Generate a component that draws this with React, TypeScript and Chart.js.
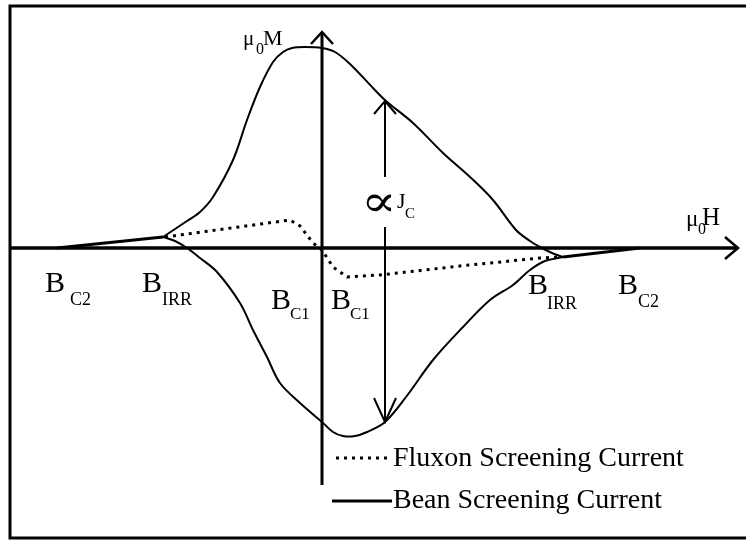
import React, { useEffect, useRef } from "react";
import { Chart, registerables } from "chart.js";

Chart.register(...registerables);

// Applied field μ0H and magnetisation μ0M, arbitrary units (origin where the axes cross)

// Bean screening current, branch above the field axis between the two B_IRR points
const beanUpperH = [-159, -135, -122, -109, -89, -75, -62, -49, -39, -30, -17, 0, 13, 28, 51, 64, 91, 121, 148, 171, 194, 208, 218, 230, 241];
const beanUpperM = [11, 27, 36, 51, 88, 128, 161, 186, 196, 200, 201, 200, 196, 184, 160, 147, 125, 95, 71, 48, 18, 7, 1, -5, -9];

// Bean screening current, branch below the field axis
const beanLowerH = [-159, -147, -135, -122, -105, -82, -69, -55, -42, -22, 0, 11, 21, 33, 45, 63, 84, 111, 141, 168, 191, 208, 223, 241];
const beanLowerM = [11, 7, 0, -10, -24, -55, -82, -109, -135, -155, -174, -184, -188, -188, -184, -174, -149, -112, -79, -52, -37, -22, -13, -9];

// Reversible tails between B_IRR and B_C2
const tailLeftH = [-265, -159];
const tailLeftM = [0, 11];
const tailRightH = [241, 318];
const tailRightM = [-9, 0];

// Fluxon screening current
const fluxonH = [-157, -32, -22, -9, 0, 11, 25, 58, 138, 218, 238];
const fluxonM = [11, 28, 22, 5, -2, -19, -29, -27, -18, -10, -9];

// Double arrow showing the width of the loop, proportional to Jc
const jcH = 63;
const jcTopM = 147;
const jcBottomM = -174;
const jcGapM = [71, 21];

// Axis extents
const hRange = [-322, 424];
const mRange = [-292, 248];
const hAxisEnd = [-312, 416];
const mAxisEnd = [-237, 216];

// Critical field labels
const fieldLabelText = ["B", "B", "B", "B", "B", "B"];
const fieldLabelSub = ["C2", "IRR", "C1", "C1", "IRR", "C2"];

const legendText = ["Fluxon Screening Current", "Bean Screening Current"];

// Placement of the critical field labels (H, M of the "B" baseline, subscript offsets in px)
const fieldLabelLayout = [
  { h: -277, m: -44, dx: 25, dy: 13, sub: 18 },
  { h: -180, m: -44, dx: 20, dy: 13, sub: 18 },
  { h: -51, m: -61, dx: 19, dy: 10, sub: 17 },
  { h: 9, m: -61, dx: 19, dy: 10, sub: 17 },
  { h: 206, m: -46, dx: 19, dy: 15, sub: 18 },
  { h: 296, m: -46, dx: 20, dy: 13, sub: 18 },
];

const SERIF = '"Liberation Serif", "Times New Roman", "DejaVu Serif", serif';
const DOTS = [3, 5];

const pairs = (hs: number[], ms: number[]) => hs.map((h, i) => ({ x: h, y: ms[i] }));

function text(ctx: CanvasRenderingContext2D, s: string, x: number, y: number, size: number) {
  ctx.font = `${size}px ${SERIF}`;
  ctx.fillText(s, x, y);
}

function seg(ctx: CanvasRenderingContext2D, x1: number, y1: number, x2: number, y2: number) {
  ctx.beginPath();
  ctx.moveTo(x1, y1);
  ctx.lineTo(x2, y2);
  ctx.stroke();
}

function chevron(ctx: CanvasRenderingContext2D, x: number, y: number, dir: "up" | "down" | "right", len: number, half: number) {
  ctx.beginPath();
  if (dir === "right") {
    ctx.moveTo(x - len, y - half);
    ctx.lineTo(x, y);
    ctx.lineTo(x - len, y + half);
  } else if (dir === "up") {
    ctx.moveTo(x - half, y + len);
    ctx.lineTo(x, y);
    ctx.lineTo(x + half, y + len);
  } else {
    ctx.moveTo(x - half, y - len);
    ctx.lineTo(x, y);
    ctx.lineTo(x + half, y - len);
  }
  ctx.stroke();
}

const diagramDecor = {
  id: "diagramDecor",
  beforeDatasetsDraw(chart: any) {
    const ctx: CanvasRenderingContext2D = chart.ctx;
    const sx = chart.scales.x;
    const sy = chart.scales.y;
    const px = (h: number) => sx.getPixelForValue(h);
    const py = (m: number) => sy.getPixelForValue(m);
    ctx.save();
    ctx.strokeStyle = "#000";
    ctx.lineJoin = "miter";

    // outer frame, open on the right
    ctx.lineWidth = 3;
    ctx.beginPath();
    ctx.moveTo(chart.width, 6);
    ctx.lineTo(10, 6);
    ctx.lineTo(10, 538);
    ctx.lineTo(chart.width, 538);
    ctx.stroke();

    // μ0H axis
    ctx.lineWidth = 3.5;
    seg(ctx, px(hAxisEnd[0]), py(0), px(hAxisEnd[1]), py(0));
    ctx.lineWidth = 2.5;
    chevron(ctx, px(hAxisEnd[1]), py(0), "right", 13, 11);

    // μ0M axis
    ctx.lineWidth = 3;
    seg(ctx, px(0), py(mAxisEnd[0]), px(0), py(mAxisEnd[1]));
    ctx.lineWidth = 2.5;
    chevron(ctx, px(0), py(mAxisEnd[1]), "up", 12, 11);
    ctx.restore();
  },
  afterDraw(chart: any) {
    const ctx: CanvasRenderingContext2D = chart.ctx;
    const sx = chart.scales.x;
    const sy = chart.scales.y;
    const px = (h: number) => sx.getPixelForValue(h);
    const py = (m: number) => sy.getPixelForValue(m);
    ctx.save();
    ctx.strokeStyle = "#000";
    ctx.fillStyle = "#000";
    ctx.textAlign = "left";
    ctx.textBaseline = "alphabetic";

    // Jc double arrow with a gap for its label
    ctx.lineWidth = 2;
    seg(ctx, px(jcH), py(jcTopM), px(jcH), py(jcGapM[0]));
    seg(ctx, px(jcH), py(jcGapM[1]), px(jcH), py(jcBottomM));
    chevron(ctx, px(jcH), py(jcTopM), "up", 13, 11);
    chevron(ctx, px(jcH), py(jcBottomM), "down", 24, 11);

    // ∝ Jc label, the proportional sign widened slightly
    ctx.font = `44px ${SERIF}`;
    ctx.save();
    ctx.translate(361, 216);
    ctx.scale(1.2, 1);
    ctx.fillText("\u221D", 0, 0);
    ctx.restore();
    text(ctx, "J", 397, 208, 22);
    text(ctx, "C", 405, 218, 15);

    // axis titles
    text(ctx, "\u03BC", 243, 45, 21);
    text(ctx, "0", 256, 54, 16);
    text(ctx, "M", 263, 45, 22);
    text(ctx, "\u03BC", 686, 226, 23);
    text(ctx, "0", 698, 234, 16);
    text(ctx, "H", 702, 225, 25);

    // critical fields
    fieldLabelText.forEach((t, i) => {
      const l = fieldLabelLayout[i];
      const x = px(l.h);
      const y = py(l.m);
      text(ctx, t, x, y, 30);
      text(ctx, fieldLabelSub[i], x + l.dx, y + l.dy, l.sub);
    });

    // legend
    ctx.lineWidth = 3;
    ctx.setLineDash(DOTS);
    seg(ctx, 336, 458, 390, 458);
    ctx.setLineDash([]);
    seg(ctx, 332, 501, 392, 501);
    text(ctx, legendText[0], 393, 466, 28);
    text(ctx, legendText[1], 393, 508, 28);
    ctx.restore();
  },
};

export default function App() {
  const canvasRef = useRef<HTMLCanvasElement | null>(null);

  useEffect(() => {
    const canvas = canvasRef.current;
    if (!canvas) return;
    const solid = {
      showLine: true,
      borderColor: "#000",
      backgroundColor: "#000",
      borderWidth: 2,
      pointRadius: 0,
      clip: false as any,
    };
    const chart = new Chart(canvas, {
      type: "scatter",
      data: {
        datasets: [
          { ...solid, label: "Bean upper", data: pairs(beanUpperH, beanUpperM), tension: 0.35 },
          { ...solid, label: "Bean lower", data: pairs(beanLowerH, beanLowerM), tension: 0.35 },
          { ...solid, label: "tail left", data: pairs(tailLeftH, tailLeftM), borderWidth: 3 },
          { ...solid, label: "tail right", data: pairs(tailRightH, tailRightM), borderWidth: 3 },
          { ...solid, label: "Fluxon", data: pairs(fluxonH, fluxonM), borderWidth: 3, borderDash: DOTS },
        ],
      },
      options: {
        animation: false,
        responsive: false,
        maintainAspectRatio: false,
        devicePixelRatio: 1,
        layout: { padding: 0 },
        events: [],
        plugins: { legend: { display: false }, tooltip: { enabled: false }, title: { display: false } },
        scales: {
          x: { type: "linear", min: hRange[0], max: hRange[1], display: false },
          y: { type: "linear", min: mRange[0], max: mRange[1], display: false },
        },
      },
      plugins: [diagramDecor],
    });
    return () => chart.destroy();
  }, []);

  return (
    <div style={{ position: "fixed", left: 0, top: 0, width: 746, height: 540, background: "#fff" }}>
      <canvas ref={canvasRef} width={746} height={540} style={{ display: "block", width: 746, height: 540 }} />
    </div>
  );
}
